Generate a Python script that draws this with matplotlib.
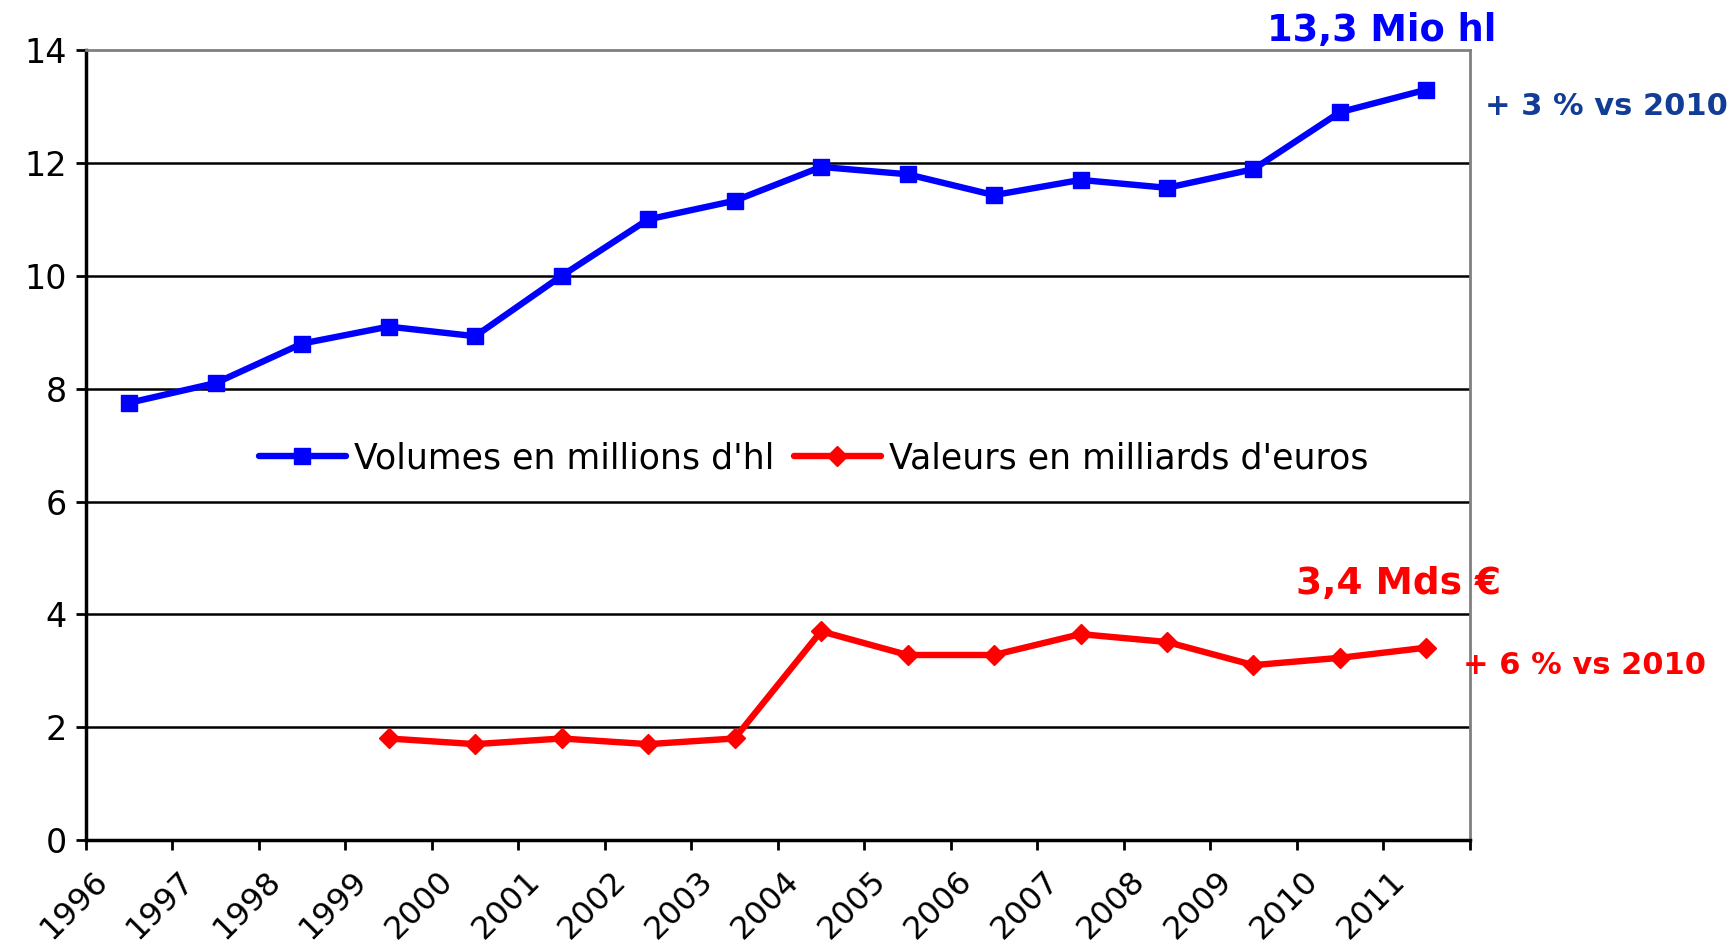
import numpy as np
import matplotlib
matplotlib.use("Agg")
import matplotlib.pyplot as plt
from matplotlib.transforms import ScaledTranslation

years = ["1996", "1997", "1998", "1999", "2000", "2001", "2002", "2003",
         "2004", "2005", "2006", "2007", "2008", "2009", "2010", "2011"]
volumes = [7.75, 8.1, 8.8, 9.1, 8.93, 10.0, 11.0, 11.33,
           11.93, 11.8, 11.43, 11.7, 11.56, 11.89, 12.9, 13.3]
value_years = ["1999", "2000", "2001", "2002", "2003", "2004", "2005",
               "2006", "2007", "2008", "2009", "2010", "2011"]
values = [1.8, 1.7, 1.8, 1.7, 1.8, 3.7, 3.28, 3.28, 3.65, 3.51, 3.1, 3.23, 3.41]

label_vol = "Volumes en millions d'hl"
label_val = "Valeurs en milliards d'euros"

plt.rcParams['font.family'] = ['DejaVu Sans']

fig = plt.figure(figsize=(17.27, 9.46), dpi=100)
ax = fig.add_axes([0.0498, 0.112, 0.851 - 0.0498, 0.947 - 0.112])

x_vol = np.array([years.index(y) for y in years]) + 0.5
x_val = np.array([years.index(y) for y in value_years]) + 0.5

ax.plot(x_vol, volumes, color='#0000FF', lw=4.6, marker='s', ms=12,
        label=label_vol, solid_capstyle='round', zorder=3)
ax.plot(x_val, values, color='#FF0000', lw=4.6, marker='D', ms=10.5,
        label=label_val, solid_capstyle='round', zorder=3)

ax.set_xlim(0, len(years))
ax.set_ylim(0, 14)
ax.set_yticks(range(0, 15, 2))
ax.tick_params(axis='y', labelsize=24, length=7, width=2, pad=7)
for yv in range(2, 14, 2):
    ax.axhline(yv, color='black', lw=1.8, zorder=1)

ax.set_xticks(range(len(years) + 1))
ax.set_xticklabels(years + [""], rotation=45, fontsize=23)
ax.tick_params(axis='x', length=7, width=2, pad=11)
offset = ScaledTranslation(-0.12, 0, fig.dpi_scale_trans)
for lab in ax.get_xticklabels():
    lab.set_transform(lab.get_transform() + offset)

ax.spines['left'].set_linewidth(2.5)
ax.spines['bottom'].set_linewidth(2.5)
ax.spines['top'].set_color('#808080')
ax.spines['right'].set_color('#808080')
ax.spines['top'].set_linewidth(2)
ax.spines['right'].set_linewidth(2)

ax.legend(loc='center', bbox_to_anchor=(0.526, 0.483), ncol=2, frameon=False,
          fontsize=25, handlelength=2.5, handletextpad=0.25, columnspacing=0.55)

fig.text(0.800, 0.968, "13,3 Mio hl", color='#0000FF', fontsize=26.5,
         fontweight='bold', ha='center', va='center')
fig.text(0.860, 0.887, "+ 3 % vs 2010", color='#123D96', fontsize=22,
         fontweight='bold', ha='left', va='center')
fig.text(0.810, 0.383, "3,4 Mds €", color='#FF0000', fontsize=27,
         fontweight='bold', ha='center', va='center')
fig.text(0.847, 0.297, "+ 6 % vs 2010", color='#FF0000', fontsize=22,
         fontweight='bold', ha='left', va='center')

fig.savefig("out.png", dpi=100)
